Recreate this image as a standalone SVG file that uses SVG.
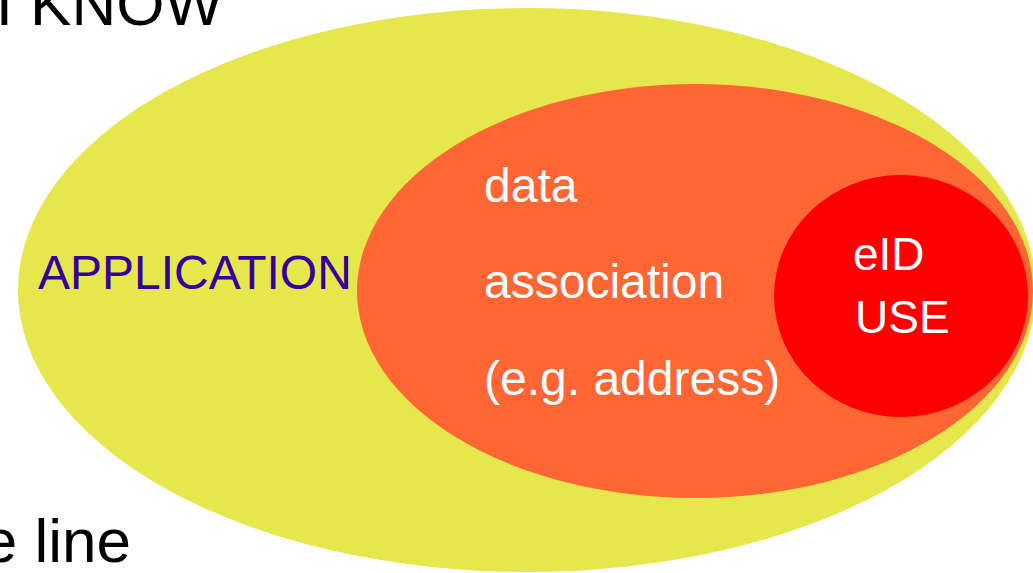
<svg xmlns="http://www.w3.org/2000/svg" width="1033" height="573" viewBox="0 0 1033 573">
<style>
.t{font-family:"Liberation Sans",Arial,sans-serif}
.w{fill:#ffffff;font-size:48px}
.b{fill:#000000;font-size:62px}
</style>
<rect width="1033" height="573" fill="#ffffff"/>
<text class="t b" x="223" y="25" text-anchor="end">I KNOW</text>
<text class="t b" x="131" y="562" text-anchor="end">e line</text>
<g id="application">
<ellipse cx="527" cy="290" rx="509" ry="282" fill="#E6E64D"/>
<text class="t" x="38" y="289" font-size="48" fill="#330099">APPLICATION</text>
</g>
<g id="data-association">
<ellipse cx="695" cy="291" rx="338" ry="207" fill="#FF6633"/>
<text class="t w" x="484" y="202">data</text>
<text class="t w" x="484" y="298">association</text>
<text class="t w" x="484" y="395">(e.g. address)</text>
</g>
<g id="eid-use">
<ellipse cx="901" cy="296" rx="127" ry="121" fill="#FF0000"/>
<text class="t" x="853" y="270" font-size="46" fill="#ffffff">eID</text>
<text class="t" x="855" y="333" font-size="46" fill="#ffffff">USE</text>
</g>
<g id="connectors"/>
</svg>
